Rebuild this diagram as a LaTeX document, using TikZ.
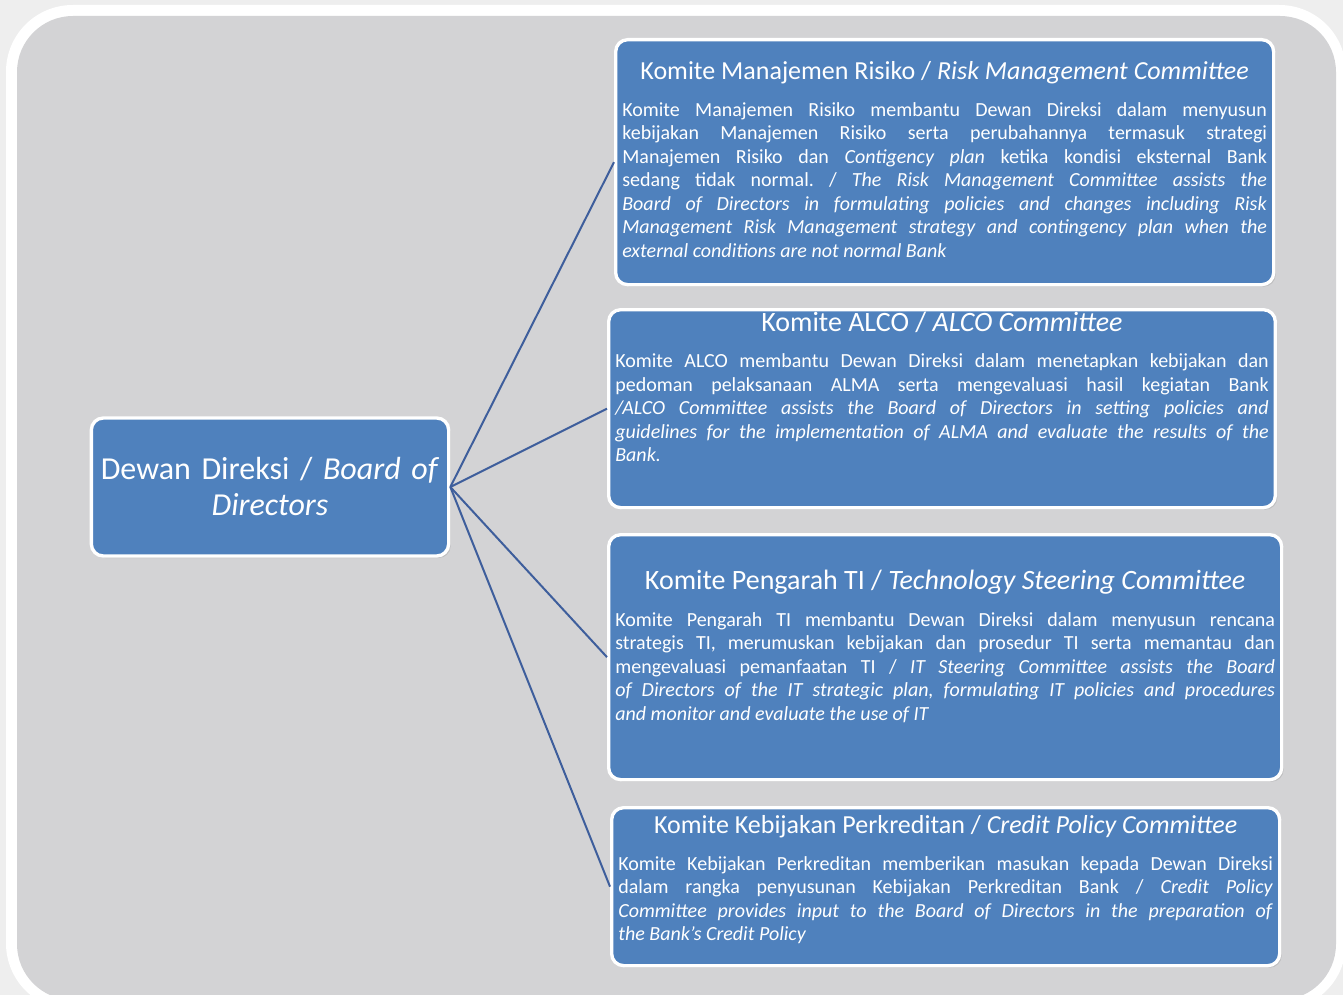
\documentclass[tikz,border=0pt]{standalone}
\usepackage{fontspec}
\setmainfont{Carlito}
\usepackage{xcolor}
\usetikzlibrary{positioning,shadows}
\definecolor{pagegray}{RGB}{238,238,238}
\definecolor{panelgray}{RGB}{211,211,213}
\definecolor{boxblue}{RGB}{79,129,189}
\definecolor{linkblue}{RGB}{62,94,156}
\frenchspacing
\newcommand{\cmtitle}[2][19.5]{{\centering\fontsize{#1}{22}\selectfont #2\par}\vspace{10pt}}

\begin{document}
\begin{tikzpicture}[x=0.75pt, y=-0.75pt,
    committee/.style={draw=white, line width=2.5pt, fill=boxblue, rounded corners=9pt,
      text=white, anchor=north west, inner xsep=5pt, inner ysep=3pt, align=justify,
      font=\fontsize{15}{17.6}\selectfont,
      drop shadow={opacity=0.25, shadow xshift=1.5pt, shadow yshift=-1.5pt}},
    board/.style={committee, anchor=center, align=center, text width=258pt,
      minimum width=267pt, minimum height=103.5pt, font=\fontsize{24}{27}\selectfont},
    link/.style={draw=linkblue, line width=1.5pt}]
	\useasboundingbox (0,0) rectangle (1343,995);
	% frame
	\fill[pagegray] (0,0) rectangle (1343,995);
	\fill[white, rounded corners=50pt] (6,5) rectangle (1346,1010);
	\fill[panelgray, rounded corners=42pt] (17,16) rectangle (1336,1000);

	\node [board] (dir) at (270,487) {Dewan Direksi / \textit{Board of}\\\textit{Directors}};

	\node [committee, text width=483.5pt, text height=27pt, text depth=150.75pt] (risk) at (614,38) {%
		\cmtitle{Komite Manajemen Risiko / \textit{Risk Management Committee}}
		Komite Manajemen Risiko membantu Dewan Direksi dalam menyusun\linebreak
		kebijakan Manajemen Risiko serta perubahannya termasuk strategi\linebreak
		Manajemen Risiko dan \textit{Contigency plan} ketika kondisi eksternal Bank\linebreak
		sedang tidak normal. / \textit{The Risk Management Committee assists the}\linebreak
		\textit{Board of Directors in formulating policies and changes including Risk}\linebreak
		\textit{Management Risk Management strategy and contingency plan when the}\linebreak
		\textit{external conditions are not normal Bank}};

	\node [committee, text width=490pt, text height=13pt, text depth=129.5pt] (alco) at (607,308) {%
		\cmtitle[21]{Komite ALCO / \textit{ALCO Committee}}
		Komite ALCO membantu Dewan Direksi dalam menetapkan kebijakan dan\linebreak
		pedoman pelaksanaan ALMA serta mengevaluasi hasil kegiatan Bank\linebreak
		\textit{/ALCO Committee assists the Board of Directors in setting policies and}\linebreak
		\textit{guidelines for the implementation of ALMA and evaluate the results of the}\linebreak
		\textit{Bank.}};

	\node [committee, text width=494.75pt, text height=38pt, text depth=139.75pt] (ti) at (607,533) {%
		\cmtitle[21]{Komite Pengarah TI / \textit{Technology Steering Committee}}
		Komite Pengarah TI membantu Dewan Direksi dalam menyusun rencana\linebreak
		strategis TI, merumuskan kebijakan dan prosedur TI serta memantau dan\linebreak
		mengevaluasi pemanfaatan TI / \textit{IT Steering Committee assists the Board}\linebreak
		\textit{of Directors of the IT strategic plan, formulating IT policies and procedures}\linebreak
		\textit{and monitor and evaluate the use of IT}};

	\node [committee, text width=491pt, text height=16.5pt, text depth=96pt] (credit) at (610,806) {%
		\cmtitle{Komite Kebijakan Perkreditan / \textit{Credit Policy Committee}}
		Komite Kebijakan Perkreditan memberikan masukan kepada Dewan Direksi\linebreak
		dalam rangka penyusunan Kebijakan Perkreditan Bank / \textit{Credit Policy}\linebreak
		\textit{Committee provides input to the Board of Directors in the preparation of}\linebreak
		\textit{the Bank's Credit Policy}};

	% links
	\draw [link] (dir.east) -- (risk.west);
	\draw [link] (dir.east) -- (alco.west);
	\draw [link] (dir.east) -- (ti.west);
	\draw [link] (dir.east) -- (credit.west);
\end{tikzpicture}
\end{document}
